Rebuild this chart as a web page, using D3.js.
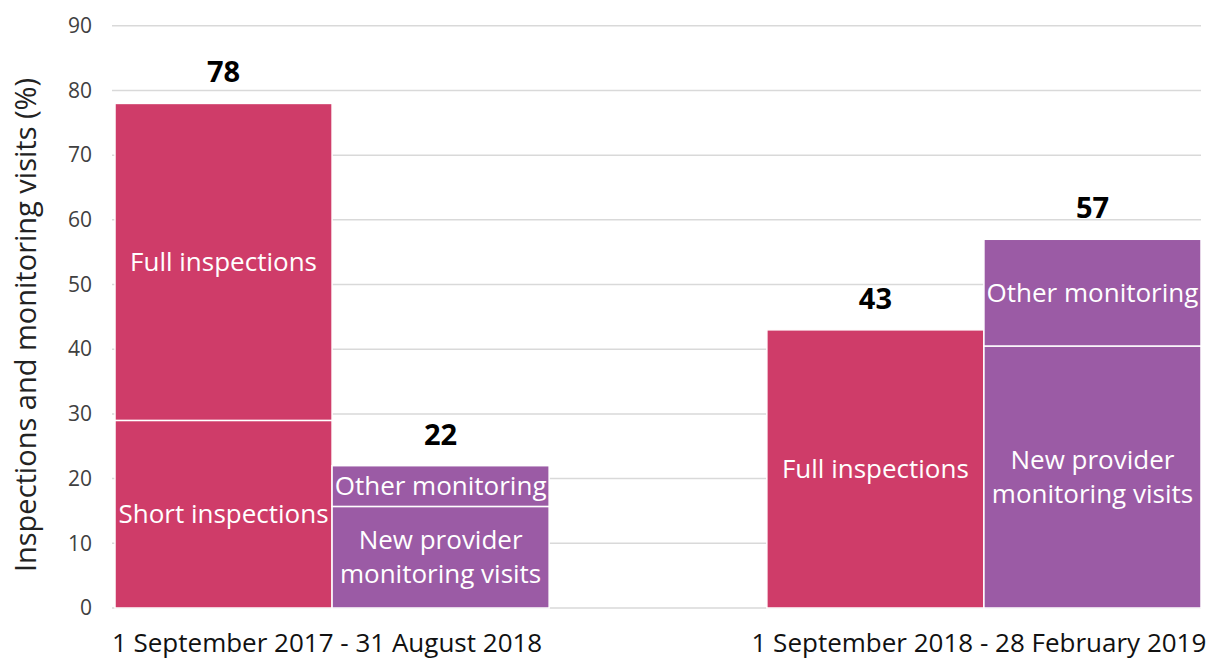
<!DOCTYPE html>
<html>
<head>
<meta charset="utf-8">
<script src="https://cdn.jsdelivr.net/npm/d3@7"></script>
<style>
  body { margin: 0; background: #fff; }
  svg { display: block; font-family: "Open Sans", sans-serif; }
</style>
</head>
<body>
<div id="chart"></div>
<script>
// Datos
const periods = ["1 September 2017 - 31 August 2018", "1 September 2018 - 28 February 2019"];
const shortInspections = [29, 0];
const fullInspections = [49, 43];
const newProviderVisits = [15.7, 40.5];
const otherMonitoring = [6.3, 16.5];
const yTicks = [0, 10, 20, 30, 40, 50, 60, 70, 80, 90];

const width = 1211;
const height = 660;
const pink = "#cf3c69";
const purple = "#9b5ba5";

const svg = d3.select("#chart").append("svg")
  .attr("width", width)
  .attr("height", height);

// Escalas
const y = d3.scaleLinear().domain([0, 90]).range([608, 25.8]);
const x = d3.scaleBand().domain(periods).range([115, 1201]).paddingInner(0.334).paddingOuter(0);
const sub = d3.scaleBand().domain(["insp", "mon"]).range([0, x.bandwidth()]).padding(0);

// Rejilla
svg.append("g")
  .selectAll("line")
  .data(yTicks)
  .join("line")
  .attr("x1", 112)
  .attr("x2", 1201)
  .attr("y1", d => y(d))
  .attr("y2", d => y(d))
  .attr("stroke", "#d9d9d9")
  .attr("stroke-width", 1.5);

// Eje Y
const yAxis = svg.append("g")
  .attr("transform", "translate(100,0)")
  .call(d3.axisLeft(y).tickValues(yTicks).tickSize(0).tickPadding(8));
yAxis.select(".domain").remove();
yAxis.selectAll("text")
  .attr("font-size", 21)
  .attr("font-family", "Open Sans, sans-serif")
  .attr("fill", "#404040");

svg.append("text")
  .attr("transform", "translate(36,325) rotate(-90)")
  .attr("text-anchor", "middle")
  .attr("font-size", 29)
  .attr("fill", "#222")
  .text("Inspections and monitoring visits (%)");

// Segmentos
const segments = [];
periods.forEach((p, i) => {
  const insp = [
    { key: "Short inspections", v: shortInspections[i] },
    { key: "Full inspections", v: fullInspections[i] }
  ];
  const mon = [
    { key: "New provider|monitoring visits", v: newProviderVisits[i] },
    { key: "Other monitoring", v: otherMonitoring[i] }
  ];
  [["insp", insp, pink], ["mon", mon, purple]].forEach(([k, parts, color]) => {
    let base = 0;
    parts.forEach(s => {
      if (s.v > 0) {
        segments.push({ period: p, col: k, y0: base, y1: base + s.v, label: s.key, color });
      }
      base += s.v;
    });
    segments.push({ period: p, col: k, total: base, isTotal: true });
  });
});

const bars = segments.filter(d => !d.isTotal);
const totals = segments.filter(d => d.isTotal);

svg.append("g")
  .selectAll("rect")
  .data(bars)
  .join("rect")
  .attr("x", d => x(d.period) + sub(d.col))
  .attr("width", sub.bandwidth())
  .attr("y", d => y(d.y1))
  .attr("height", d => y(d.y0) - y(d.y1))
  .attr("fill", d => d.color)
  .attr("stroke", "#fff")
  .attr("stroke-width", 1.5);

// Etiquetas dentro de las barras
const inner = svg.append("g")
  .selectAll("text")
  .data(bars)
  .join("text")
  .attr("text-anchor", "middle")
  .attr("font-size", 26)
  .attr("fill", "#fff")
  .attr("x", d => x(d.period) + sub(d.col) + sub.bandwidth() / 2)
  .attr("y", d => (y(d.y0) + y(d.y1)) / 2);

inner.each(function (d) {
  const lines = d.label.split("|");
  const t = d3.select(this);
  lines.forEach((ln, j) => {
    t.append("tspan")
      .attr("x", x(d.period) + sub(d.col) + sub.bandwidth() / 2)
      .attr("dy", j === 0 ? (0.35 - (lines.length - 1) * 0.65) + "em" : "1.3em")
      .text(ln);
  });
});

// Totales
svg.append("g")
  .selectAll("text")
  .data(totals)
  .join("text")
  .attr("text-anchor", "middle")
  .attr("font-size", 29)
  .attr("font-weight", "bold")
  .attr("fill", "#000")
  .attr("x", d => x(d.period) + sub(d.col) + sub.bandwidth() / 2)
  .attr("y", d => y(d.total) - 21)
  .text(d => d3.format(".0f")(d.total));

// Etiquetas de categoria
svg.append("g")
  .selectAll("text")
  .data(periods)
  .join("text")
  .attr("text-anchor", "middle")
  .attr("font-size", 26)
  .attr("fill", "#111")
  .attr("x", d => x(d) + x.bandwidth() / 2 - 5)
  .attr("y", 652)
  .text(d => d);
</script>
</body>
</html>
